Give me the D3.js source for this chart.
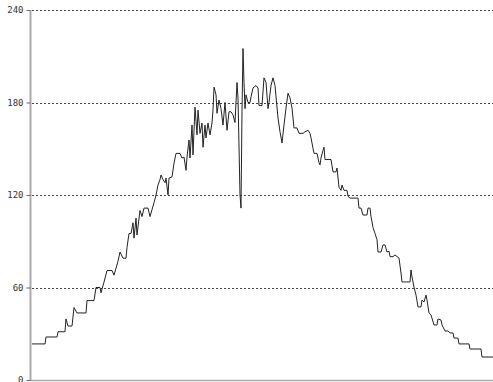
<!DOCTYPE html>
<html><head><meta charset="utf-8">
<script src="https://cdn.jsdelivr.net/npm/d3@7"></script>
<style>html,body{margin:0;padding:0;background:#fff;}svg{display:block;}</style>
</head><body>
<svg id="c" width="493" height="382"></svg>
<script>
// Horizontal position (units along x, 0..461)
const t = [0,13,14,25,26,33,34,36,40,42,45,54,55,62,64,68,69,72,75,80,82,86,88,91,94,95,97,99,101,102,104,105,108,110,112,116,118,122,124,126,128,129,131,133,134,136,137,140,142,144,148,150,152,154,155,157,158,160,161,163,165,166,168,170,171,173,174,176,178,180,181,182,184,185,187,189,191,193,195,197,199,201,203,205,206,208,209,210,211,212,213,214,216,218,219,221,224,226,227,230,232,234,236,237,239,241,243,246,248,250,252,254,256,258,260,262,265,267,271,273,276,278,279,282,285,287,288,289,291,292,293,299,301,304,305,307,309,310,312,315,316,318,326,327,329,331,335,336,338,339,341,343,345,346,349,351,353,355,357,358,361,363,367,369,370,378,379,380,382,384,386,389,390,392,394,395,397,399,402,405,406,409,410,413,416,418,421,422,426,427,437,438,449,450,461];
// Series values
const v = [23.4,23.4,27.9,27.9,31.3,31.3,39.6,35,35,47,43.5,43.5,51.5,51.5,60,60,56.6,63.5,71,71,68,77,83,79,79,86,95,95,102,92,105,94,110,106,111.5,111.5,106,115,120,126.5,130,133,130,128,131,120,131,131.7,140.7,147,147,144,144.6,136,144.6,155.7,144,165.4,146,177,159,175,160,166.7,151,165.4,157,166.7,159,166.7,175,190,185,173,181.6,176,165.4,180,162,174,174,172,167,193,183,120,111.5,174,215,193,176,185,180,180,183.6,189.4,191,189.4,178,178,196,193,176,180,191,196,191,170,161,153.7,165.4,176.4,186,183,176.4,163.5,163.5,160,160,161,162,160,157,147,147,141,139.5,144,149,151,143,143,135,135,137.5,125,123,126.5,123,123,119,118,118,111.5,111.5,107,107,111.5,111.5,106,99,95,91,83,83,87.6,87.6,83,83.5,80,80,81.1,79.1,69.4,63.6,63.6,71.4,66.8,60.3,55.1,47.4,47.4,51.9,50.6,55.1,51.9,43.5,42.2,35.7,35.7,39.6,38.9,35.7,31.8,31.8,30.5,30.5,27.2,27.2,23.4,23.4,20.1,20.1,14.9,14.9];
// Tick labels
const yTicks = [0,60,120,180,240];

const svg = d3.select("#c");
const x = d3.scaleLinear().domain([0,461]).range([32,493]);
const y = d3.scaleLinear().domain([0,240]).range([380,10]);

// gridlines
svg.append("g").selectAll("line").data(yTicks.filter(d=>d>0)).join("line")
  .attr("x1",32).attr("x2",493)
  .attr("y1",d=>Math.round(y(d))+0.5).attr("y2",d=>Math.round(y(d))+0.5)
  .attr("stroke","#444").attr("stroke-width",1).attr("stroke-dasharray","2,2");

// x axis baseline
svg.append("line").attr("x1",30).attr("x2",493).attr("y1",380.5).attr("y2",380.5)
  .attr("stroke","#aaa").attr("stroke-width",1.5);

// y axis
const ya = svg.append("g").attr("transform","translate(30.5,0)")
  .call(d3.axisLeft(y).tickValues(yTicks).tickSize(4).tickPadding(3));
ya.select(".domain").attr("stroke","#aaa").attr("stroke-width",2).attr("d","M0,10V381");
ya.selectAll(".tick line").attr("stroke","#666");
ya.selectAll(".tick text").attr("font-family","'DejaVu Sans Mono', monospace").attr("font-size",9).attr("fill","#333");

// line
const line = d3.line().x((d,i)=>x(t[i])).y(d=>y(d));
svg.append("path").datum(v).attr("d",line).attr("fill","none")
  .attr("stroke","#222").attr("stroke-width",1).attr("stroke-linejoin","round");
</script>
</body></html>
